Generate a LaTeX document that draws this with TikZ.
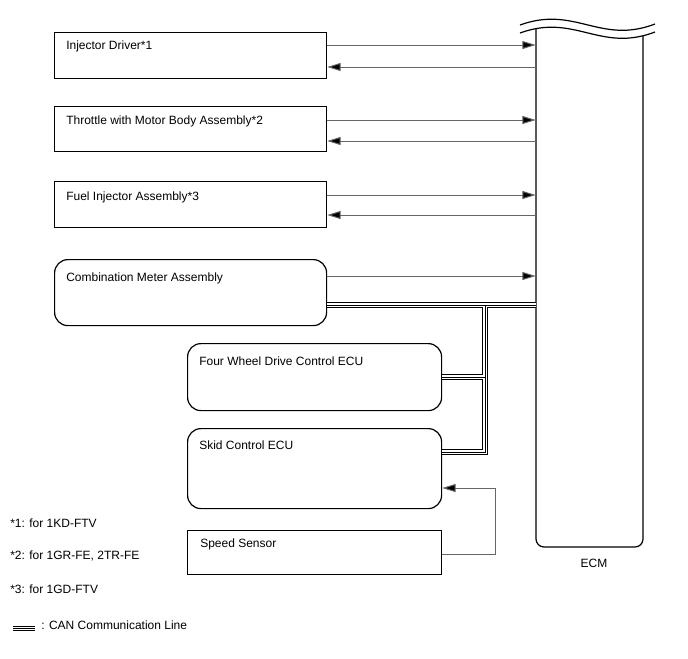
\documentclass[tikz,border=0pt]{standalone}
\usepackage{fontspec}
\setmainfont{Liberation Sans}
\usetikzlibrary{arrows.meta}
\begin{document}
\begin{tikzpicture}[x=0.75pt,y=-0.75pt,
  box/.style={draw=black,line width=0.9pt,inner sep=0pt,anchor=north west},
  rbox/.style={box,rounded corners=10pt},
  lbl/.style={inner sep=0pt,anchor=base west,font=\fontsize{9pt}{11pt}\selectfont},
  sig/.style={draw=black!60,line width=0.75pt},
  tip/.style={-{Triangle[length=10pt,width=6pt,fill=black]}},
  canA/.style={draw=black,line width=4.2pt},
  canB/.style={draw=white,line width=2.7pt},
  canC/.style={draw=black,line width=0.65pt}]
\useasboundingbox (0,0) rectangle (688,658);

% boxes
\node[box,minimum width=204pt,minimum height=34.5pt] (inj) at (54,32) {};
\node[box,minimum width=204pt,minimum height=33.75pt] (thr) at (54,106) {};
\node[box,minimum width=204pt,minimum height=34.5pt] (fuel) at (54,181) {};
\node[rbox,minimum width=204pt,minimum height=49.5pt] (met) at (54,259) {};
\node[rbox,minimum width=190.5pt,minimum height=50.25pt] (fwd) at (187,343) {};
\node[rbox,minimum width=190.5pt,minimum height=60pt] (skid) at (187,428) {};
\node[box,minimum width=190.5pt,minimum height=33pt] (spd) at (187,530) {};

% texts
\node[lbl] (injt) at (66,49) {Injector Driver*1};
\node[lbl] (thrt) at (66,124) {Throttle with Motor Body Assembly*2};
\node[lbl] (fuelt) at (66,200) {Fuel Injector Assembly*3};
\node[lbl] (mett) at (66,281) {Combination Meter Assembly};
\node[lbl] (fwdt) at (199,365) {Four Wheel Drive Control ECU};
\node[lbl] (skidt) at (199,449) {Skid Control ECU};
\node[lbl] (spdt) at (200,547) {Speed Sensor};
\node[lbl,anchor=base] (ecmt) at (594,567) {ECM};
\node[lbl] (n1) at (10,527) {*1: for 1KD-FTV};
\node[lbl] (n2) at (10,559) {*2: for 1GR-FE, 2TR-FE};
\node[lbl] (n3) at (10,593) {*3: for 1GD-FTV};
\node[lbl] (n4) at (41,629) {: CAN Communication Line};

% ECM
\node[inner sep=0pt,minimum width=80.25pt,minimum height=387.75pt] (ecm) at (589.5,288.5) {};
\draw[line width=0.9pt] (520,25) .. controls (575,5) and (600,45) .. (655,24);
\draw[line width=0.9pt] (520,33) .. controls (575,13) and (600,53) .. (655,32);
\draw[line width=0.9pt,rounded corners=6pt] (536,28.7) -- (536,547) -- (643,547) -- (643,35.5);

% signal arrows
\draw[sig,tip] (inj.east |- 0,45) -- (ecm.west |- 0,45);
\draw[sig,tip] (ecm.west |- 0,67) -- (inj.east |- 0,67);
\draw[sig,tip] (thr.east |- 0,120) -- (ecm.west |- 0,120);
\draw[sig,tip] (ecm.west |- 0,141) -- (thr.east |- 0,141);
\draw[sig,tip] (fuel.east |- 0,195) -- (ecm.west |- 0,195);
\draw[sig,tip] (ecm.west |- 0,215) -- (fuel.east |- 0,215);
\draw[sig,tip] (met.east |- 0,276) -- (ecm.west |- 0,276);
\draw[sig,tip] (spd.east |- 0,554) -- (495,554) -- (495,488) -- (skid.east |- 0,488);

% CAN lines
\coordinate (j1) at (485,305);
\coordinate (j2) at (485,377);
\coordinate (j3) at (485,452);
\coordinate (l1) at (13,628.5);
\coordinate (l2) at (35,628.5);
\foreach \s in {canA,canB,canC}{
  \draw[\s] (met.east |- j1) -- (ecm.west |- j1);
  \draw[\s] (j1) -- (j3) -- (skid.east |- j3);
  \draw[\s] (fwd.east |- j2) -- (j2);
  \draw[\s] (l1) -- (l2);
}
\end{tikzpicture}
\end{document}
